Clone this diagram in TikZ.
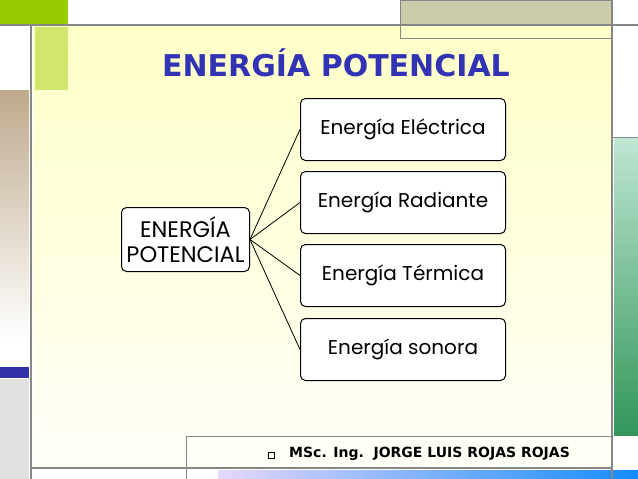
\documentclass[tikz,border=0pt]{standalone}
\usepackage{fontspec}
\setmainfont{Poppins}
\newfontfamily\titlefont{DejaVu Sans}
\definecolor{panTop}{RGB}{255,255,200}
\definecolor{panBot}{RGB}{255,255,248}
\definecolor{grnA}{RGB}{153,204,0}
\definecolor{grnB}{RGB}{210,230,110}
\definecolor{khaki}{RGB}{204,204,170}
\definecolor{tan}{RGB}{190,170,140}
\definecolor{blueblk}{RGB}{50,50,170}
\definecolor{lgray}{RGB}{225,225,225}
\definecolor{rgTop}{RGB}{190,230,210}
\definecolor{rgBot}{RGB}{50,150,90}
\definecolor{bbL}{RGB}{230,215,250}
\definecolor{bbR}{RGB}{20,140,250}
\definecolor{titleblue}{RGB}{50,50,180}
\definecolor{frame}{RGB}{135,135,135}
\begin{document}
\begin{tikzpicture}[x=1pt,y=-1pt,
  leaf/.style={draw=black,line width=1pt,rounded corners=5pt,fill=white,minimum width=205pt,minimum height=62pt,font=\fontsize{20}{24}\selectfont,anchor=north west,inner sep=0pt},
  conn/.style={draw=black,line width=0.8pt}]
\useasboundingbox (0,0) rectangle (638,479);
\fill[white] (0,0) rectangle (638,479);
\shade[top color=panTop,bottom color=panBot] (33,26) rectangle (611,468);
\fill[grnA] (0,0) rectangle (68,24);
\fill[grnB] (35,27) rectangle (68,90);
\fill[khaki] (400,0) rectangle (611,24);
\draw[frame,line width=0.8pt] (400,0) rectangle (611,38);
\shade[top color=tan,bottom color=white] (0,90) rectangle (29,340);
\fill[blueblk] (0,367) rectangle (29,378);
\fill[lgray] (0,379) rectangle (29,479);
\shade[top color=rgTop,bottom color=rgBot] (614,138) rectangle (638,435);
\draw[frame,line width=0.8pt] (612,137) -- (638,137);
\shade[left color=bbL,right color=bbR] (218,470) rectangle (638,479);
\draw[frame,line width=2pt] (0,25) -- (638,25);
\draw[frame,line width=2pt] (31,25) -- (31,479);
\draw[frame,line width=2pt] (612,0) -- (612,479);
\draw[frame,line width=2pt] (31,468) -- (612,468);
\draw[frame,line width=1pt] (186,479) -- (186,436) -- (612,436);
\node[font=\titlefont\bfseries\fontsize{14}{16}\selectfont,anchor=west,inner sep=0pt] (foot) at (289,454) {MSc. Ing.\ \ JORGE LUIS ROJAS ROJAS};
\node[draw=black,line width=0.4pt,minimum size=6pt,inner sep=0pt] (bul) at (271,455) {};
\node[font=\titlefont\bfseries\fontsize{30}{34}\selectfont,text=titleblue] (title) at (336,63) {ENERGÍA POTENCIAL};
\node[draw=black,line width=1pt,rounded corners=5pt,fill=white,minimum width=128pt,minimum height=64pt,inner sep=0pt,anchor=north west,align=center,font=\fontsize{22.5}{25}\selectfont] (root) at (121,207) {ENERGÍA\\POTENCIAL};
\node[leaf] (a) at (300,98) {Energía Eléctrica};
\node[leaf] (b) at (300,171) {Energía Radiante};
\node[leaf] (c) at (300,244) {Energía Térmica};
\node[leaf] (d) at (300,318) {Energía sonora};
\foreach \n in {a,b,c,d} \draw[conn] (root.east) -- (\n.west);
\end{tikzpicture}
\end{document}
